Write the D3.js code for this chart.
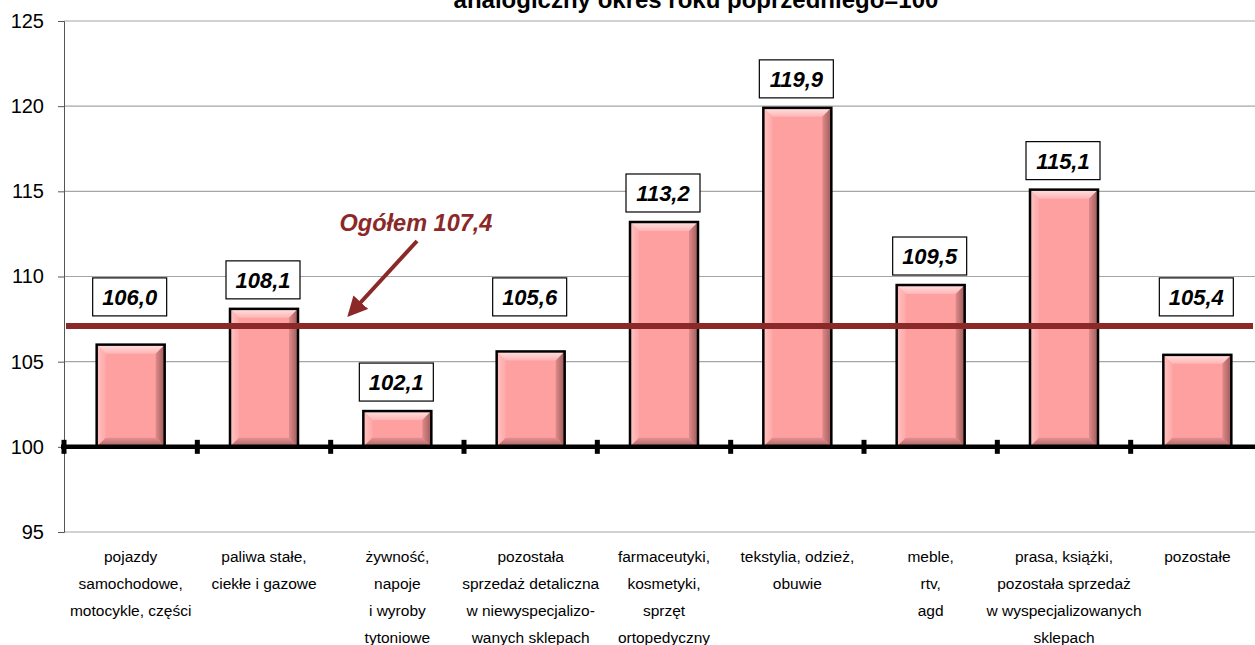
<!DOCTYPE html>
<html>
<head>
<meta charset="utf-8">
<script src="https://cdn.jsdelivr.net/npm/d3@7"></script>
<style>
  html, body { margin: 0; padding: 0; background: #fff; overflow: hidden; }
  svg { display: block; font-family: Arial, "Liberation Sans", sans-serif; }
</style>
</head>
<body>
<div id="chart"></div>
<script>
// Chart data
const categories = [
    ['pojazdy', 'samochodowe,', 'motocykle, części'],
    ['paliwa stałe,', 'ciekłe i gazowe'],
    ['żywność,', 'napoje', 'i wyroby', 'tytoniowe'],
    ['pozostała', 'sprzedaż detaliczna', 'w niewyspecjalizo-', 'wanych sklepach'],
    ['farmaceutyki,', 'kosmetyki,', 'sprzęt', 'ortopedyczny'],
    ['tekstylia, odzież,', 'obuwie'],
    ['meble,', 'rtv,', 'agd'],
    ['prasa, książki,', 'pozostała sprzedaż', 'w wyspecjalizowanych', 'sklepach'],
    ['pozostałe']
];
const values = [106.0, 108.1, 102.1, 105.6, 113.2, 119.9, 109.5, 115.1, 105.4];
const yTicks = [95, 100, 105, 110, 115, 120, 125];
const baseValue = 100;
const totalLabel = 'Ogółem 107,4';
const totalLevel = 107.1;   // where the line sits in the picture
const titleText = 'analogiczny okres roku poprzedniego=100';

const W = 1255, H = 645;
const margin = { top: 21, left: 64, bottom: 113 };
const plotRight = 1264;

const svg = d3.select('#chart').append('svg')
    .attr('width', W)
    .attr('height', H);

const x = d3.scaleBand()
    .domain(d3.range(values.length))
    .range([margin.left, plotRight])
    .paddingInner(0.49)
    .paddingOuter(0.245);

const y = d3.scaleLinear()
    .domain([95, 125])
    .range([H - margin.bottom, margin.top]);

const fmt = v => v.toFixed(1).replace('.', ',');

// Title (clipped by the top edge, as in the source)
svg.append('text')
    .attr('x', 696)
    .attr('y', 8)
    .attr('text-anchor', 'middle')
    .attr('font-size', 24)
    .attr('font-weight', 'bold')
    .attr('fill', '#000')
    .text(titleText);

// Gridlines
svg.append('g')
    .selectAll('line')
    .data(yTicks)
    .join('line')
    .attr('x1', margin.left)
    .attr('x2', W)
    .attr('y1', d => y(d))
    .attr('y2', d => y(d))
    .attr('stroke', '#a6a6a6')
    .attr('stroke-width', 1.2);

// Y axis
const yAxis = svg.append('g')
    .attr('transform', `translate(${margin.left},0)`)
    .call(d3.axisLeft(y).tickValues(yTicks).tickSize(6).tickPadding(14));
yAxis.select('.domain').attr('stroke', '#555').attr('stroke-width', 1);
yAxis.selectAll('.tick line').attr('stroke', '#555');
yAxis.selectAll('.tick text')
    .attr('font-size', 20)
    .attr('font-family', 'Arial, "Liberation Sans", sans-serif')
    .attr('fill', '#000');

// Bevel gradients
const defs = svg.append('defs');
function grad(id, x1, y1, x2, y2, stops) {
    const g = defs.append('linearGradient').attr('id', id)
        .attr('x1', x1).attr('y1', y1).attr('x2', x2).attr('y2', y2);
    stops.forEach(s => g.append('stop').attr('offset', s[0]).attr('stop-color', s[1]));
}
grad('bevTop', 0, 1, 0, 0, [[0, '#ffb4b4'], [1, '#ffe2e2']]);
grad('bevLeft', 1, 0, 0, 0, [[0, '#ffa8a8'], [1, '#ffc4c4']]);
grad('bevRight', 0, 0, 1, 0, [[0, '#e08a8a'], [1, '#9c5b5b']]);
grad('bevBottom', 0, 0, 0, 1, [[0, '#e59090'], [1, '#a66464']]);

// Bars
const bev = 9;
const bars = svg.append('g')
    .selectAll('g')
    .data(values)
    .join('g')
    .attr('transform', (d, i) => `translate(${x(i)},${y(d)})`);

bars.each(function (d) {
    const g = d3.select(this);
    const w = x.bandwidth();
    const h = y(baseValue) - y(d);
    const b = Math.min(bev, h / 2);
    g.append('rect').attr('width', w).attr('height', h).attr('fill', '#ffa0a0');
    g.append('polygon').attr('points', `0,0 ${w},0 ${w - b},${b} ${b},${b}`).attr('fill', 'url(#bevTop)');
    g.append('polygon').attr('points', `0,0 ${b},${b} ${b},${h - b} 0,${h}`).attr('fill', 'url(#bevLeft)');
    g.append('polygon').attr('points', `${w},0 ${w},${h} ${w - b},${h - b} ${w - b},${b}`).attr('fill', 'url(#bevRight)');
    g.append('polygon').attr('points', `0,${h} ${b},${h - b} ${w - b},${h - b} ${w},${h}`).attr('fill', 'url(#bevBottom)');
    g.append('rect').attr('width', w).attr('height', h)
        .attr('fill', 'none').attr('stroke', '#000').attr('stroke-width', 2.5);
});

// Base axis at 100 with category ticks
const baseY = y(baseValue);
svg.append('line')
    .attr('x1', margin.left - 3).attr('x2', W)
    .attr('y1', baseY).attr('y2', baseY)
    .attr('stroke', '#000').attr('stroke-width', 4.5);

const step = x.step();
svg.append('g')
    .selectAll('rect')
    .data(d3.range(values.length).map(i => margin.left + i * step))
    .join('rect')
    .attr('x', d => d - 2.5)
    .attr('y', baseY - 7)
    .attr('width', 5)
    .attr('height', 14)
    .attr('fill', '#000');

// Total line
const lineY = y(totalLevel);
svg.append('line')
    .attr('x1', margin.left + 2).attr('x2', 1253)
    .attr('y1', lineY).attr('y2', lineY)
    .attr('stroke', '#8b2828').attr('stroke-width', 6);

// Arrow + label for total
const arrowColor = '#8b2828';
defs.append('marker')
    .attr('id', 'arrowHead')
    .attr('viewBox', '0 0 10 10')
    .attr('refX', 8).attr('refY', 5)
    .attr('markerWidth', 5).attr('markerHeight', 5)
    .attr('orient', 'auto')
    .append('path')
    .attr('d', 'M0,0 L10,5 L0,10 Z')
    .attr('fill', arrowColor);

svg.append('line')
    .attr('x1', 417).attr('y1', 241)
    .attr('x2', 350).attr('y2', 314)
    .attr('stroke', arrowColor)
    .attr('stroke-width', 4)
    .attr('marker-end', 'url(#arrowHead)');

svg.append('text')
    .attr('x', 416)
    .attr('y', 231)
    .attr('text-anchor', 'middle')
    .attr('font-size', 23.5)
    .attr('font-weight', 'bold')
    .attr('font-style', 'italic')
    .attr('fill', arrowColor)
    .text(totalLabel);

// Value labels in boxes
const boxW = 74, boxH = 38;
const labels = svg.append('g')
    .selectAll('g')
    .data(values)
    .join('g')
    .attr('transform', (d, i) => {
        let bottom = y(d) - 10;
        // keep box clear of the total line
        if (bottom > lineY - 8 && bottom - boxH < lineY + 8) bottom = lineY - 10;
        return `translate(${x(i) + x.bandwidth() / 2 - 1},${bottom - boxH})`;
    });

labels.append('rect')
    .attr('x', -boxW / 2)
    .attr('width', boxW)
    .attr('height', boxH)
    .attr('fill', '#fff')
    .attr('stroke', '#000')
    .attr('stroke-width', 1.2);

labels.append('text')
    .attr('y', boxH / 2 + 8)
    .attr('text-anchor', 'middle')
    .attr('font-size', 22)
    .attr('font-weight', 'bold')
    .attr('font-style', 'italic')
    .attr('fill', '#000')
    .text(d => fmt(d));

// Category labels
const cat = svg.append('g')
    .selectAll('text')
    .data(categories)
    .join('text')
    .attr('text-anchor', 'middle')
    .attr('font-size', 15.5)
    .attr('fill', '#000')
    .attr('transform', (d, i) => `translate(${x(i) + x.bandwidth() / 2},562)`);

cat.selectAll('tspan')
    .data(d => d)
    .join('tspan')
    .attr('x', 0)
    .attr('y', (d, j) => j * 27)
    .text(d => d);
</script>
</body>
</html>
